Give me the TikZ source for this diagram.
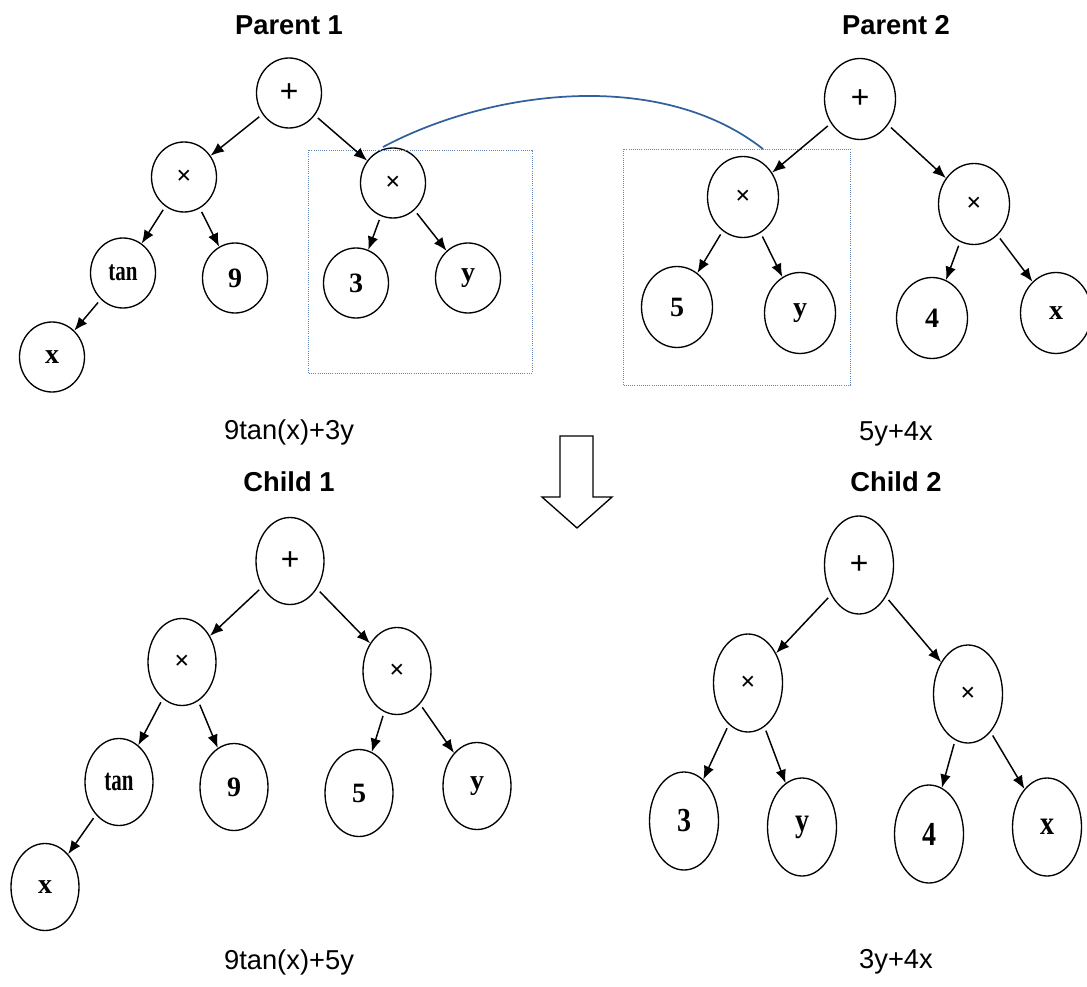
\documentclass[tikz,border=0pt]{standalone}
\usepackage{fontspec}
\setmainfont{Liberation Serif}
\newfontfamily\labfont{Liberation Sans}
\usetikzlibrary{arrows.meta,shapes.geometric}
\definecolor{swapblue}{RGB}{50,96,158}
\definecolor{boxblue}{RGB}{95,135,185}

\begin{document}
\begin{tikzpicture}[x=0.75pt,y=-0.75pt,
    tn/.style={draw, ellipse, line width=1pt, inner sep=0pt, font=\fontsize{21}{21}\selectfont\bfseries},
    pa/.style={tn, minimum width=48.75pt, minimum height=52.5pt},
    pb/.style={tn, minimum width=53.25pt, minimum height=60.75pt},
    ca/.style={tn, minimum width=51pt, minimum height=65.25pt},
    cb/.style={tn, minimum width=51.75pt, minimum height=73.5pt},
    op/.style={font=\fontsize{20}{20}\selectfont\bfseries},
    pl/.style={font=\fontsize{25}{25}\selectfont\bfseries},
    arr/.style={-{Latex[length=10pt,width=8pt]}, line width=1.1pt, shorten <=3pt},
    selbox/.style={draw=boxblue, line width=0.6pt, dash pattern=on 0.7pt off 0.9pt},
    title/.style={font=\labfont\bfseries\fontsize{20.5}{20.5}\selectfont},
    expr/.style={font=\labfont\fontsize{20.5}{20.5}\selectfont}]
  \useasboundingbox (0,0) rectangle (1087,987);

  % parent 1
  \node[title] (tp1) at (289,25) {Parent 1};
  \node[pa,pl] (p1plus) at (289,93) {+};
  \node[pa,op] (p1mulA) at (184,177) {×};
  \node[pa,op] (p1mulB) at (393,183) {×};
  \node[pa] (p1tan) at (123,273) {\scalebox{0.75}[1]{tan}};
  \node[pa] (p1nine) at (235,278) {9};
  \node[pa] (p1x) at (52,357) {x};
  \node[pa] (p1three) at (356,283) {3};
  \node[pa] (p1y) at (468,278) {y};
  \draw[selbox] (308,150) rectangle (532,373);
  \foreach \a/\b in {p1plus/p1mulA, p1plus/p1mulB, p1mulA/p1tan, p1mulA/p1nine,
      p1tan/p1x, p1mulB/p1three, p1mulB/p1y}
    \draw[arr] (\a) -- (\b);

  % parent 2
  \node[title] (tp2) at (896,25) {Parent 2};
  \node[pb,pl] (p2plus) at (860,99) {+};
  \node[pb,op] (p2mulA) at (743,197) {×};
  \node[pb,op] (p2mulB) at (974,204) {×};
  \node[pb] (p2five) at (677,307) {5};
  \node[pb] (p2y) at (800,313) {y};
  \node[pb] (p2four) at (932,318) {4};
  \node[pb] (p2x) at (1056,313) {x};
  \draw[selbox] (623,149) rectangle (850,385);
  \foreach \a/\b in {p2plus/p2mulA, p2plus/p2mulB, p2mulA/p2five, p2mulA/p2y,
      p2mulB/p2four, p2mulB/p2x}
    \draw[arr] (\a) -- (\b);

  % crossover
  \coordinate (cutA) at (383,147);
  \coordinate (cutB) at (763,149);
  \draw[swapblue, line width=1.3pt] (cutA) .. controls (490,90) and (660,68) .. (cutB);

  \node[expr] (f1) at (289,432) {9tan(x)+3y};
  \node[expr] (f2) at (896,434) {5y+4x};
  \draw[line width=1pt, fill=white] (560,436) -- (593,436) -- (593,497) -- (612,497)
    -- (577,528) -- (542,497) -- (560,497) -- cycle;

  % child 1
  \node[title] (tc1) at (289,482) {Child 1};
  \node[ca,pl] (c1plus) at (290,561) {+};
  \node[ca,op] (c1mulA) at (182,662) {×};
  \node[ca,op] (c1mulB) at (397,671) {×};
  \node[ca] (c1tan) at (119,782) {\scalebox{0.75}[1.1]{tan}};
  \node[ca] (c1nine) at (234,787) {9};
  \node[ca] (c1five) at (359,793) {5};
  \node[ca] (c1y) at (477,786) {y};
  \node[ca] (c1x) at (45,887) {x};
  \foreach \a/\b in {c1plus/c1mulA, c1plus/c1mulB, c1mulA/c1tan, c1mulA/c1nine,
      c1tan/c1x, c1mulB/c1five, c1mulB/c1y}
    \draw[arr] (\a) -- (\b);

  % child 2
  \node[title] (tc2) at (896,482) {Child 2};
  \node[cb,pl] (c2plus) at (859,565) {+};
  \node[cb,op] (c2mulA) at (748,683) {×};
  \node[cb,op] (c2mulB) at (968,694) {×};
  \node[cb] (c2three) at (684,821) {\scalebox{1}[1.2]{3}};
  \node[cb] (c2y) at (802,827) {\scalebox{1}[1.2]{y}};
  \node[cb] (c2four) at (929,834) {\scalebox{1}[1.2]{4}};
  \node[cb] (c2x) at (1047,827) {\scalebox{1}[1.2]{x}};
  \foreach \a/\b in {c2plus/c2mulA, c2plus/c2mulB, c2mulA/c2three, c2mulA/c2y,
      c2mulB/c2four, c2mulB/c2x}
    \draw[arr] (\a) -- (\b);

  \node[expr] (f3) at (289,962) {9tan(x)+5y};
  \node[expr] (f4) at (896,962) {3y+4x};
\end{tikzpicture}
\end{document}
